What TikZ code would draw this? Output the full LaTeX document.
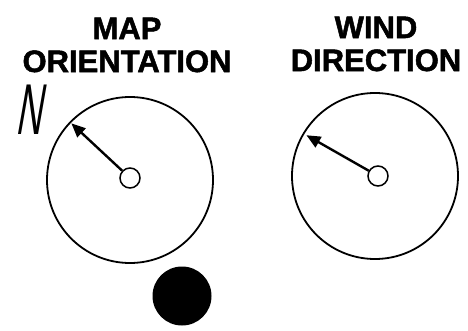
\documentclass[tikz,border=0pt]{standalone}
\usepackage{fontspec}
\setmainfont{Liberation Sans}[BoldFeatures={FakeBold=1.6}]
\usetikzlibrary{arrows.meta}
\begin{document}
\begin{tikzpicture}[x=1pt,y=-1pt,
  title/.style={font=\fontsize{31}{33}\selectfont\bfseries, align=center, inner sep=0pt, text=black},
  dial/.style={draw=black, line width=1.8pt, circle, minimum size=166pt, inner sep=0pt},
  hub/.style={draw=black, line width=1.5pt, circle, fill=white, minimum size=20pt, inner sep=0pt},
  pointer/.style={line width=2.4pt, -{Triangle[length=14pt,width=12pt]}, shorten >=0.5pt}]
\useasboundingbox (0,0) rectangle (468,331);
\node[title] (t1) at (127,45) {MAP\\ORIENTATION};
\node[title] (t2) at (376,44) {WIND\\DIRECTION};
\node[font=\fontsize{72}{72}\selectfont, xscale=0.5, xslant=0.35, inner sep=0pt] (n) at (33,110) {N};
\node[dial] (c1) at (130,180) {};
\node[dial] (c2) at (375,176) {};
\node[hub] (h1) at (130,178) {};
\node[hub] (h2) at (378,176) {};
\coordinate (p1) at (71,123);
\coordinate (p2) at (306,135);
\draw[pointer] (h1) -- (p1);
\draw[pointer] (h2) -- (p2);
\node[circle, fill=black, minimum size=59pt, inner sep=0pt] (dot) at (182,296) {};
\end{tikzpicture}
\end{document}
